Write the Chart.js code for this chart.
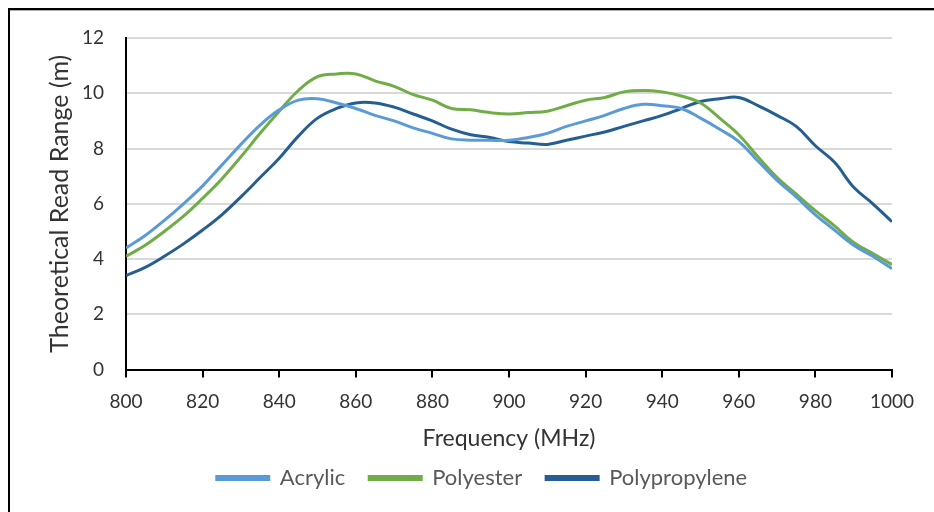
<!DOCTYPE html>
<html>
<head>
<meta charset="utf-8">
<style>
  html, body { margin: 0; padding: 0; background: #fff; }
  .frame {
    position: absolute; left: 8px; top: 8px; width: 926px; height: 504px;
    border-left: 2px solid #000; border-top: 2px solid #000;
    box-shadow: inset 0 1px 0 #aaa;
  }
  .box { position: absolute; left: 0; top: 0; width: 934px; height: 512px; }
</style>
<script src="https://cdn.jsdelivr.net/npm/chart.js"></script>
</head>
<body>
<div class="frame"></div>
<div class="box"><canvas id="chart" width="934" height="512"></canvas></div>
<script>
// frequency, MHz
const freq = [800,805,810,815,820,825,830,835,840,845,850,855,860,865,870,875,880,885,890,895,
              900,905,910,915,920,925,930,935,940,945,950,955,960,965,970,975,980,985,990,995,1000];

// theoretical read range, m
const acrylic = [4.4,4.85,5.4,6.0,6.65,7.4,8.15,8.85,9.4,9.75,9.8,9.65,9.45,9.2,9.0,8.75,8.55,8.35,8.3,8.3,
                 8.3,8.4,8.55,8.8,9.0,9.2,9.45,9.6,9.55,9.45,9.1,8.7,8.25,7.55,6.85,6.25,5.6,5.05,4.5,4.1,3.65];
const polyester = [4.1,4.5,5.0,5.55,6.2,6.9,7.7,8.55,9.35,10.1,10.6,10.7,10.7,10.45,10.25,9.95,9.75,9.45,9.4,9.3,
                   9.25,9.3,9.35,9.55,9.75,9.85,10.05,10.1,10.05,9.9,9.65,9.1,8.5,7.7,6.95,6.35,5.75,5.2,4.6,4.2,3.8];
const polypropylene = [3.4,3.7,4.1,4.55,5.05,5.6,6.25,6.95,7.65,8.45,9.1,9.45,9.65,9.65,9.5,9.25,9.0,8.7,8.5,8.4,
                       8.25,8.2,8.15,8.3,8.45,8.6,8.8,9.0,9.2,9.45,9.7,9.8,9.85,9.55,9.2,8.8,8.1,7.5,6.6,6.0,5.35];

const seriesNames = ['Acrylic', 'Polyester', 'Polypropylene'];
const seriesColors = ['#5B9BD5', '#70AD47', '#255E91'];

function pts(vals) {
  return vals.map((v, i) => ({ x: freq[i], y: v }));
}

Chart.defaults.font.family = 'Lato, "Open Sans", sans-serif';
Chart.defaults.color = '#404040';

const ctx = document.getElementById('chart');
new Chart(ctx, {
  type: 'line',
  data: {
    datasets: [acrylic, polyester, polypropylene].map((vals, i) => ({
      label: seriesNames[i],
      data: pts(vals),
      borderColor: seriesColors[i],
      backgroundColor: seriesColors[i],
      borderWidth: 3,
      pointRadius: 0,
      tension: 0.4,
      fill: false
    }))
  },
  options: {
    responsive: false,
    animation: false,
    // extra left padding only to centre the legend like the original; the y title is pulled back
    layout: { padding: { left: 72, right: 42, top: 38, bottom: 13 } },
    plugins: {
      legend: {
        position: 'bottom',
        labels: {
          boxWidth: 52, boxHeight: 3, padding: 24,
          color: '#595959',
          font: { size: 22 }
        }
      },
      tooltip: { enabled: false }
    },
    scales: {
      x: {
        type: 'linear',
        min: 800, max: 1000,
        ticks: { stepSize: 20, color: '#333', font: { size: 19 }, padding: 13, callback: v => String(v) },
        grid: { drawOnChartArea: false, drawTicks: true, tickLength: 8, color: '#000', lineWidth: 2 },
        border: { color: '#000', width: 2 },
        title: { display: true, text: 'Frequency (MHz)', color: '#333', font: { size: 23 }, padding: { top: -2, bottom: -9 } }
      },
      y: {
        min: 0, max: 12,
        ticks: { stepSize: 2, color: '#333', font: { size: 19 }, padding: 22 },
        grid: { color: '#d9d9d9', lineWidth: 2, drawTicks: false },
        border: { color: '#000', width: 2 },
        title: { display: true, text: 'Theoretical Read Range (m)', color: '#333', font: { size: 25 }, padding: { top: -27, bottom: -15 } }
      }
    }
  }
});
</script>
</body>
</html>
